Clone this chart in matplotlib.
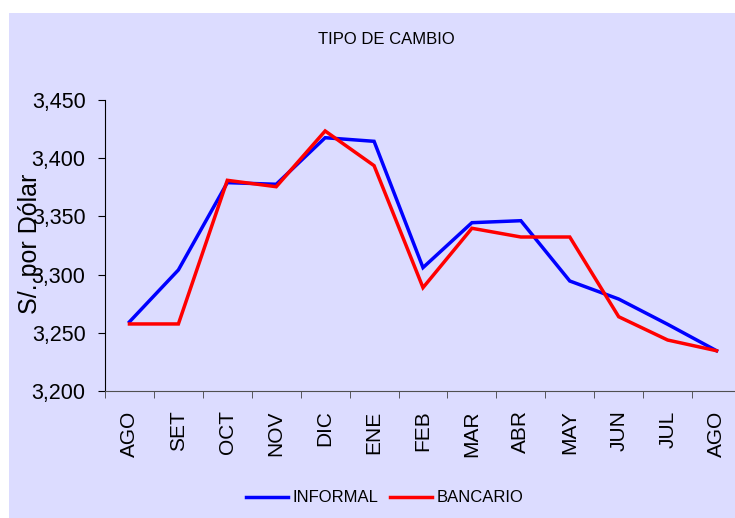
import matplotlib.pyplot as plt
from matplotlib.patches import Rectangle

meses = ["AGO", "SET", "OCT", "NOV", "DIC", "ENE", "FEB", "MAR", "ABR", "MAY", "JUN", "JUL", "AGO"]
informal = [3.2594, 3.304, 3.379, 3.3776, 3.4176, 3.4145, 3.306, 3.3446, 3.3463, 3.2945, 3.279, 3.2573, 3.2346]
bancario = [3.2576, 3.2576, 3.381, 3.3755, 3.4234, 3.3936, 3.2888, 3.3398, 3.3323, 3.3323, 3.2638, 3.2438, 3.2346]
yticks = [3.200, 3.250, 3.300, 3.350, 3.400, 3.450]

plt.rcParams['font.family'] = ['Liberation Sans', 'DejaVu Sans']

fig = plt.figure(figsize=(7.35, 5.18), dpi=100)
fig.patch.set_facecolor('white')
# fondo lila del area del grafico
fig.patches.append(Rectangle((9 / 735, 0), 1, 505 / 518, transform=fig.transFigure,
                             facecolor='#DCDCFF', edgecolor='none', zorder=-5))

ax = fig.add_axes([105 / 735, 127 / 518, 636 / 735, 291 / 518])
ax.set_facecolor('none')

x = list(range(len(meses)))
ax.plot(x, informal, color='#0000FF', lw=2.5, label='INFORMAL', solid_joinstyle='miter')
ax.plot(x, bancario, color='#FF0000', lw=2.5, label='BANCARIO', solid_joinstyle='miter')

ax.set_xlim(-0.5, len(meses) - 0.5)
ax.set_ylim(3.200, 3.450)
ax.set_yticks(yticks)
ax.set_yticklabels([f"{v:.3f}".replace('.', ',') for v in yticks], fontsize=15.5)
ax.set_xticks(x)
ax.set_xticklabels(meses, rotation=90, fontsize=15)
ax.set_xticks([i - 0.5 for i in range(len(meses) + 1)], minor=True)
ax.tick_params(axis='x', which='major', length=0, pad=14)
ax.tick_params(axis='x', which='minor', length=5, color='#404040')
ax.tick_params(axis='y', length=5, pad=9)

for s in ['top', 'right']:
    ax.spines[s].set_visible(False)
ax.spines['bottom'].set_color('#505050')
ax.spines['left'].set_color('black')

fig.text(386.5 / 735, 1 - 40 / 518, 'TIPO DE CAMBIO', fontsize=12, ha='center', va='center')
fig.text(30 / 735, 274 / 518, 'S/. por Dólar', fontsize=18, rotation=90, ha='center', va='center')

fig.legend(loc='center', bbox_to_anchor=(385 / 735, 20 / 518), ncol=2, frameon=False,
           fontsize=12, handlelength=2.5, handletextpad=0.3, columnspacing=0.7)

fig.savefig('out.png', dpi=100)
